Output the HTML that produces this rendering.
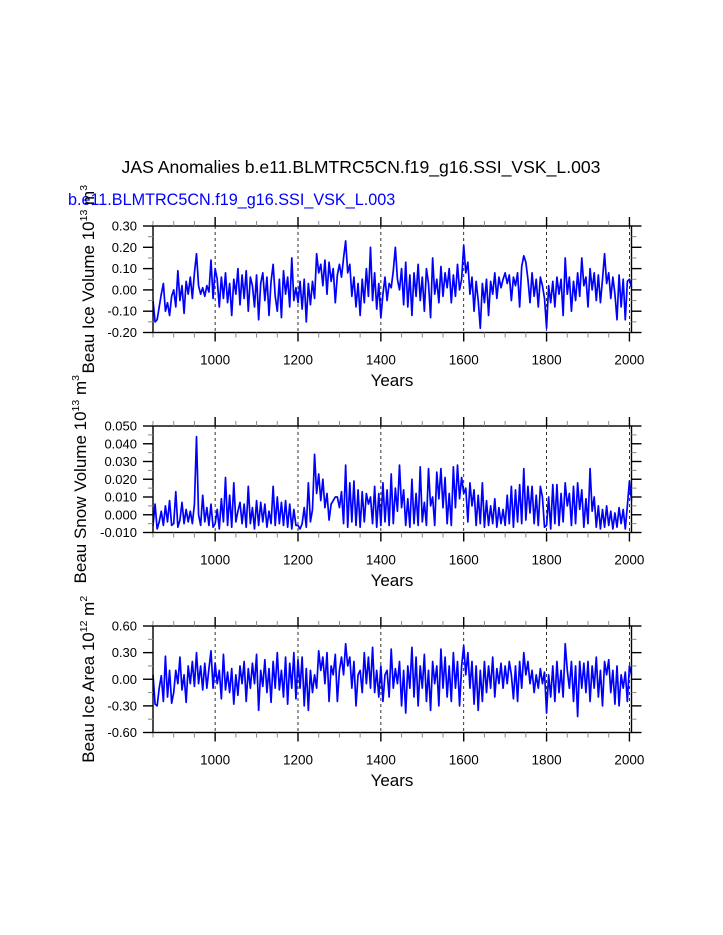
<!DOCTYPE html>
<html><head><meta charset="utf-8"><style>
body{margin:0;background:#fff;}
svg{display:block;font-family:"Liberation Sans",sans-serif;}
</style></head><body>
<svg id="chart" width="723" height="935" viewBox="0 0 723 935">
<text x="361" y="173" text-anchor="middle" font-size="17.6">JAS Anomalies b.e11.BLMTRC5CN.f19_g16.SSI_VSK_L.003</text>
<text x="68" y="205" font-size="16.2" fill="#0000ff">b.e11.BLMTRC5CN.f19_g16.SSI_VSK_L.003</text>
</svg>
<script>
const years0 = 850, stepYears = 5;
const iceVolume = [
-0.05,-0.15,-0.14,-0.08,-0.02,0.03,-0.10,-0.06,-0.12,-0.03,
0.00,-0.08,0.09,-0.05,0.02,-0.11,0.04,-0.02,0.06,-0.04,
0.08,0.17,0.02,-0.02,0.01,-0.03,0.02,-0.01,0.14,-0.04,
0.10,0.05,-0.08,0.06,-0.04,0.08,-0.06,0.03,-0.12,0.05,
-0.02,0.10,-0.07,0.07,-0.04,0.09,-0.10,0.06,0.02,-0.08,
0.07,-0.14,0.03,0.08,-0.05,0.06,-0.12,0.04,0.12,-0.03,
-0.10,0.05,-0.13,0.09,-0.02,0.06,-0.08,0.15,-0.05,0.01,
-0.06,0.04,-0.09,0.05,-0.15,0.03,-0.07,0.04,-0.04,0.17,
0.08,0.12,0.02,0.14,-0.02,0.13,0.04,0.10,-0.06,0.07,
0.12,0.06,0.15,0.23,0.08,0.12,-0.03,0.06,-0.08,0.03,
-0.12,0.05,-0.06,0.10,-0.03,0.20,-0.05,0.08,-0.09,0.03,
-0.13,-0.02,0.06,-0.05,0.03,0.01,0.09,0.20,0.05,0.00,
0.10,-0.07,0.13,-0.08,0.07,-0.12,0.08,-0.03,0.12,-0.05,
0.06,-0.10,0.10,0.03,-0.13,0.15,-0.02,0.05,-0.06,0.11,
-0.03,0.08,0.01,0.10,-0.06,0.07,-0.03,0.12,0.00,0.05,
0.21,0.08,0.13,-0.02,0.06,-0.10,0.04,-0.05,-0.18,0.03,
-0.06,0.05,-0.12,0.04,-0.02,0.08,-0.04,0.06,0.01,0.05,
0.08,0.03,0.07,-0.05,0.06,0.02,0.08,-0.08,0.11,0.16,
0.13,0.05,-0.06,0.08,-0.03,0.05,-0.08,0.06,0.02,-0.04,
-0.18,0.02,-0.06,0.04,-0.08,0.06,-0.02,0.05,-0.12,0.15,
-0.02,0.06,-0.10,0.04,-0.05,0.08,-0.03,0.15,0.02,0.06,
-0.08,0.10,0.00,0.08,-0.05,0.07,-0.06,0.05,0.17,0.03,
0.08,-0.04,0.06,-0.02,-0.14,0.07,-0.08,0.05,-0.14,0.04,
0.05,0.01];
const snowVolume = [
-0.006,0.006,-0.008,-0.004,0.002,-0.006,0.005,-0.004,0.008,-0.006,
-0.005,0.013,-0.007,-0.003,0.007,-0.005,0.003,-0.004,0.002,-0.005,
0.006,0.044,0.000,-0.006,0.011,-0.004,0.004,-0.006,0.006,-0.007,
-0.005,0.003,-0.008,0.009,-0.004,0.021,-0.006,0.011,-0.007,0.018,
-0.004,0.002,0.007,-0.005,0.006,-0.007,0.016,-0.005,0.004,-0.008,
0.008,-0.006,0.007,-0.004,0.006,-0.007,0.002,-0.005,0.016,-0.006,
0.010,-0.005,0.007,-0.006,0.008,-0.007,0.006,-0.008,0.003,-0.006,
-0.006,-0.008,-0.005,0.004,-0.007,0.018,-0.004,0.003,0.034,0.012,
0.023,0.008,0.020,0.004,0.012,-0.003,0.006,0.008,0.010,0.010,
0.004,0.013,-0.005,0.028,-0.007,0.018,-0.004,0.019,-0.006,0.014,
-0.007,0.013,-0.004,0.012,0.006,0.010,-0.005,0.016,-0.007,0.012,
-0.006,0.018,-0.004,0.014,-0.006,0.023,-0.005,0.015,0.002,0.028,
0.004,0.014,-0.006,0.009,-0.007,0.020,-0.005,0.012,-0.006,0.027,
-0.004,0.007,-0.006,0.026,0.005,0.010,-0.006,0.024,0.009,0.026,
0.004,0.021,-0.005,0.012,-0.006,0.027,0.004,0.028,0.009,0.021,
0.012,0.015,-0.004,0.018,0.005,0.014,-0.006,0.011,-0.005,0.018,
-0.007,0.008,-0.006,0.005,-0.005,0.009,-0.007,0.004,-0.005,0.003,
-0.006,0.011,-0.005,0.016,-0.007,0.014,-0.004,0.017,-0.005,0.026,
-0.003,0.016,0.001,0.016,-0.005,0.011,-0.006,0.016,0.010,-0.007,
-0.006,0.010,-0.008,0.017,-0.005,0.017,-0.006,0.012,-0.004,0.018,
0.005,0.012,-0.006,0.016,-0.005,0.018,0.003,0.014,-0.007,0.009,
-0.005,0.026,0.002,0.010,-0.007,0.005,-0.008,0.003,-0.007,0.005,
-0.006,0.002,-0.008,0.001,-0.007,0.004,-0.005,0.003,-0.008,0.005,
0.019,0.008];
const iceArea = [
0.05,-0.28,-0.30,-0.10,0.04,-0.25,0.26,-0.20,0.10,-0.27,
-0.15,0.10,-0.05,0.25,-0.12,0.05,-0.26,0.15,-0.05,0.20,
-0.08,0.30,-0.05,0.15,-0.12,0.18,-0.10,0.12,0.32,-0.10,
0.18,-0.05,0.10,-0.22,0.28,-0.12,0.08,-0.15,0.12,-0.28,
0.05,-0.18,0.15,-0.05,0.20,-0.25,0.12,-0.10,0.18,-0.05,
0.28,-0.35,0.10,-0.08,0.22,-0.15,0.12,-0.26,0.20,-0.10,
0.30,-0.12,0.10,-0.20,0.25,-0.28,0.18,-0.10,0.30,-0.22,
0.22,-0.10,0.25,-0.30,0.12,-0.35,0.10,-0.15,0.05,-0.10,
0.32,0.10,0.25,-0.05,0.30,-0.25,0.15,0.05,0.28,-0.25,
0.10,0.25,0.05,0.40,0.15,0.25,-0.10,0.20,-0.30,0.05,
0.10,-0.15,0.30,-0.05,0.25,-0.10,0.36,-0.15,0.10,-0.20,
0.15,-0.25,0.05,0.10,-0.20,0.34,-0.10,0.12,-0.05,0.20,
-0.30,0.10,-0.38,0.15,-0.10,0.36,-0.20,0.25,-0.30,0.15,
-0.10,0.28,-0.25,0.10,-0.35,0.20,-0.05,0.15,-0.30,0.34,
-0.10,0.25,-0.20,0.15,-0.25,0.30,-0.10,0.20,-0.30,0.15,
0.38,0.05,0.30,-0.10,0.20,-0.28,0.15,-0.35,0.10,-0.25,
0.20,-0.15,0.15,-0.10,0.25,-0.20,0.12,-0.05,0.18,-0.10,
0.15,-0.05,0.20,0.05,-0.22,0.15,-0.25,0.20,-0.10,0.30,
0.05,0.20,-0.05,0.10,-0.15,0.05,-0.10,0.12,-0.05,0.08,
-0.38,0.05,-0.20,0.15,-0.25,0.20,-0.15,0.10,-0.20,0.40,
0.10,-0.10,0.20,-0.25,0.15,-0.42,0.20,-0.10,0.18,-0.15,
0.20,-0.25,0.15,-0.10,0.25,-0.20,0.10,-0.30,0.20,0.05,
0.22,-0.15,0.10,-0.28,0.15,-0.30,0.05,-0.10,0.08,-0.25,
0.15,0.05];
const xTickLabels = ["1000","1200","1400","1600","1800","2000"];
const xTickYears = [1000,1200,1400,1600,1800,2000];
const ticks1 = ["0.30","0.20","0.10","0.00","-0.10","-0.20"];
const ticks2 = ["0.050","0.040","0.030","0.020","0.010","0.000","-0.010"];
const ticks3 = ["0.60","0.30","0.00","-0.30","-0.60"];

const NS = "http://www.w3.org/2000/svg";
const svg = document.getElementById("chart");
const L = 153, R = 631.5, XMIN = 850, XMAX = 2005;
function xs(yr){ return L + (yr - XMIN) / (XMAX - XMIN) * (R - L); }
function mk(tag, attrs, parent){ const e = document.createElementNS(NS, tag); for (const k in attrs) e.setAttribute(k, attrs[k]); (parent||svg).appendChild(e); return e; }

function panel(idx, top, values, ticks, minorPerMajor, titleMain, sup1, unit, sup2, titleX, label){
  const H = 106.5, B = top + H;
  const vmax = parseFloat(ticks[0]), vmin = parseFloat(ticks[ticks.length-1]);
  const ys = v => B - (v - vmin) / (vmax - vmin) * H;
  const g = mk("g", {});
  
  
  xTickYears.forEach(y => {
    const l = mk("line", {x1: xs(y), x2: xs(y), y1: top, y2: B, stroke: "#000", "stroke-width": 0.8, "stroke-dasharray": "3,3"}, g);
    
    
  });
  let d = "";
  values.forEach((v, i) => { d += (i ? "L" : "M") + xs(years0 + i * stepYears).toFixed(2) + "," + ys(v).toFixed(2); });
  const p = mk("path", {d: d, fill: "none", stroke: "#0000ff", "stroke-width": 1.7, "stroke-linejoin": "round"}, g);
  
  
  const fr = mk("rect", {x: L, y: top, width: R - L, height: H, fill: "none", stroke: "#000", "stroke-width": 1.4}, g);
  
  
  for (let yr = 850; yr <= 2000; yr += 50) {
    const major = yr % 200 === 0;
    const len = major ? 9 : 5;
    mk("line", {x1: xs(yr), x2: xs(yr), y1: B, y2: B + len, stroke: major ? "#000" : "#888", "stroke-width": major ? 1.4 : 1}, g);
    mk("line", {x1: xs(yr), x2: xs(yr), y1: top, y2: top - len, stroke: major ? "#000" : "#888", "stroke-width": major ? 1.4 : 1}, g);
  }
  xTickYears.forEach((yr, i) => {
    const t = mk("text", {x: xs(yr), y: B + 32, "text-anchor": "middle", "font-size": 13.5}, g);
    t.textContent = xTickLabels[i];
    
    
  });
  const xt = mk("text", {x: 392, y: top + 160, "text-anchor": "middle", "font-size": 17}, g);
  xt.textContent = "Years";
  
  
  const nMaj = ticks.length;
  const step = (vmax - vmin) / (nMaj - 1) / minorPerMajor;
  for (let k = 0; k <= (nMaj - 1) * minorPerMajor; k++) {
    const v = vmin + k * step, major = k % minorPerMajor === 0, len = major ? 10 : 5;
    const y = ys(v);
    mk("line", {x1: L - len, x2: L, y1: y, y2: y, stroke: major ? "#000" : "#888", "stroke-width": major ? 1.4 : 1}, g);
    mk("line", {x1: R, x2: R + len, y1: y, y2: y, stroke: major ? "#000" : "#888", "stroke-width": major ? 1.4 : 1}, g);
  }
  ticks.forEach(tl => {
    const t = mk("text", {x: 137, y: ys(parseFloat(tl)) + 4.5, "text-anchor": "end", "font-size": 13}, g);
    t.textContent = tl;
    
    
  });
  const cy = top + H / 2;
  const yt = mk("text", {x: titleX, y: cy, "text-anchor": "middle", "font-size": 17, transform: "rotate(-90 " + titleX + " " + cy + ")"}, g);
  
  
  const a = mk("tspan", {}, yt); a.textContent = titleMain;
  const b = mk("tspan", {dy: -7, "font-size": 10.5}, yt); b.textContent = sup1;
  const c = mk("tspan", {dy: 7}, yt); c.textContent = " " + unit;
  const e = mk("tspan", {dy: -7, "font-size": 10.5}, yt); e.textContent = sup2;
}
panel(1, 226, iceVolume, ticks1, 2, "Beau Ice Volume 10", "13", "m", "3", 94, "ice-volume");
panel(2, 426, snowVolume, ticks2, 2, "Beau Snow Volume 10", "13", "m", "3", 86, "snow-volume");
panel(3, 626, iceArea, ticks3, 2, "Beau Ice Area 10", "12", "m", "2", 94, "ice-area");
</script>
</body></html>
